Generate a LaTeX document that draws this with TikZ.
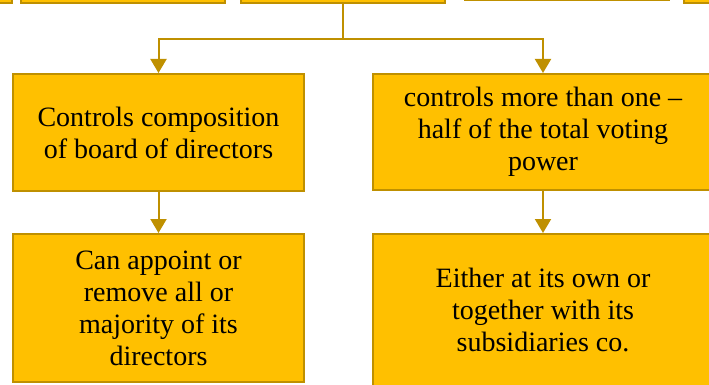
\documentclass[tikz,border=0pt]{standalone}
\usepackage{fontspec}
\setmainfont{Liberation Serif}
\usetikzlibrary{arrows.meta}
\definecolor{boxfill}{HTML}{FFC000}
\definecolor{boxline}{HTML}{BF9000}

\begin{document}
\begin{tikzpicture}[x=1pt, y=1pt,
        box/.style={draw=boxline, fill=boxfill, line width=2pt, align=center, inner sep=0pt,
            font=\fontsize{28}{32}\selectfont},
        link/.style={draw=boxline, line width=2pt, -{Triangle[width=16pt, length=14pt]}}]
        \useasboundingbox (0,0) rectangle (709,-385);
        \clip (0,0) rectangle (709,-385);

        % top row, only the lower edges are in view
        \node [box, minimum width=204pt, minimum height=100pt, anchor=south] (top1) at (-90,-4) {};
        \node [box, minimum width=204pt, minimum height=100pt, anchor=south] (top2) at (123,-4) {};
        \node [box, minimum width=204pt, minimum height=100pt, anchor=south] (top3) at (343,-4) {};
        \node [box, minimum width=204pt, minimum height=100pt, anchor=south] (top4) at (566.5,-1) {};
        \node [box, minimum width=204pt, minimum height=100pt, anchor=south] (top5) at (786,-4) {};

        \node [box, minimum width=291pt, minimum height=117pt] (board) at (158.5,-132.5)
            {Controls composition\\of board of directors};
        \node [box, minimum width=340pt, minimum height=116pt] (voting) at (543,-132)
            {controls more than one –\\half of the total voting\\power};
        \node [box, minimum width=291pt, minimum height=148pt] (appoint) at (158.5,-308)
            {Can appoint or\\remove all or\\majority of its\\directors};
        \node [box, minimum width=340pt, minimum height=152pt] (own) at (543,-310)
            {Either at its own or\\together with its\\subsidiaries co.};

        \draw [boxline, line width=2pt] (top3.south) -- ++(0,-35) coordinate (split);
        \draw [link] (split) -| (board.north);
        \draw [link] (split) -| (voting.north);
        \draw [link] (board.south) -- (appoint.north);
        \draw [link] (voting.south) -- (own.north);
    \end{tikzpicture}
\end{document}
